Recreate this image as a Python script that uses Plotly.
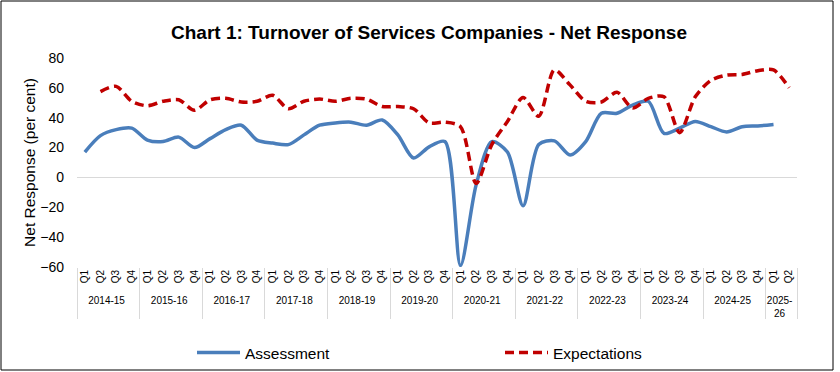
import plotly.graph_objects as go

years = ["2014-15", "2015-16", "2016-17", "2017-18", "2018-19", "2019-20",
         "2020-21", "2021-22", "2022-23", "2023-24", "2024-25", "2025-<br>26"]
quarters_per_year = [4, 4, 4, 4, 4, 4, 4, 4, 4, 4, 4, 2]
quarter_names = ["Q1", "Q2", "Q3", "Q4"]

assessment = [17, 28, 32, 33,
              25, 24, 27, 20,
              26, 32, 35, 25,
              23, 22, 28.5, 35,
              36.5, 37, 35, 38.5,
              28.5, 13, 20.5, 24,
              -59, -5, 24, 17,
              -19, 22, 24.5, 15,
              24, 43, 43, 48.5,
              51, 29.5, 33, 37.5,
              34, 30.5, 34, 34.5,
              35.5, None]

expectations = [None, 57.5, 61, 51,
                48, 51, 52, 45,
                52, 53, 50.5, 51,
                55, 46, 51, 52.5,
                51, 53, 52.5, 47.5,
                47.5, 46, 36.5, 37,
                34, -4, 22, 37.5,
                53.5, 41, 72, 62,
                51, 50.5, 57, 46.5,
                53, 54, 30, 54,
                65, 68.5, 69, 71.5,
                72, 60]

x_year = []
x_q = []
for y, n in zip(years, quarters_per_year):
    for i in range(n):
        x_year.append(y)
        x_q.append(quarter_names[i])

fig = go.Figure()
fig.add_trace(go.Scatter(
    x=[x_year, x_q], y=assessment, name="Assessment", mode="lines",
    line=dict(color="#4A7EBB", width=3.5, shape="spline", smoothing=0.8),
    connectgaps=False))
fig.add_trace(go.Scatter(
    x=[x_year, x_q], y=expectations, name="Expectations", mode="lines",
    line=dict(color="#C00000", width=3.5, dash="9px,5px", shape="spline", smoothing=0.8),
    connectgaps=False))

L, R, T, B = 77, 797, 58, 267
W, H = 840, 372
pw, ph = R - L, B - T
n_pts = len(x_q)

fig.update_layout(
    width=W, height=H,
    margin=dict(l=L, r=W - R, t=T, b=H - B, pad=0, autoexpand=False),
    paper_bgcolor="white", plot_bgcolor="white",
    font=dict(family="Liberation Sans, Arial", color="black"),
    title=dict(text="<b>Chart 1: Turnover of Services Companies - Net Response</b>",
               x=429 / W, xref="container", xanchor="center",
               y=1 - 32 / H, yref="container", yanchor="middle",
               font=dict(size=19, color="black")),
    showlegend=True,
    legend=dict(orientation="h", x=(192 - L) / pw, xanchor="left",
                y=(B - 353) / ph, yanchor="middle", itemwidth=43,
                font=dict(size=15.5), entrywidth=250, entrywidthmode="pixels",
                bgcolor="rgba(0,0,0,0)"),
    shapes=[dict(type="rect", xref="paper", yref="paper",
                 x0=(1 - L) / pw, x1=(833 - L) / pw,
                 y0=(B - 370) / ph, y1=(B - 1) / ph,
                 line=dict(color="black", width=1), fillcolor="rgba(0,0,0,0)",
                 layer="below")],
)

fig.update_xaxes(
    type="multicategory", tickangle=-90, tickfont=dict(size=10),
    range=[-0.5, n_pts - 0.5],
    showgrid=False, zeroline=False, showline=False,
    showdividers=True, dividercolor="#D9D9D9", dividerwidth=1,
    ticks="outside", ticklen=6, tickcolor="rgba(0,0,0,0)",
    fixedrange=True, automargin=False)

fig.update_yaxes(
    range=[-60, 80], dtick=20, tick0=0, showgrid=False,
    zeroline=True, zerolinecolor="#D9D9D9", zerolinewidth=1,
    showline=False, ticks="", tickfont=dict(size=14), ticklabelstandoff=12,
    title=dict(text="Net Response (per cent)", font=dict(size=15.5), standoff=0),
    fixedrange=True, automargin=False)

fig.write_html("out.html", config={"displayModeBar": False},
               post_script="document.body.style.margin='0';")
